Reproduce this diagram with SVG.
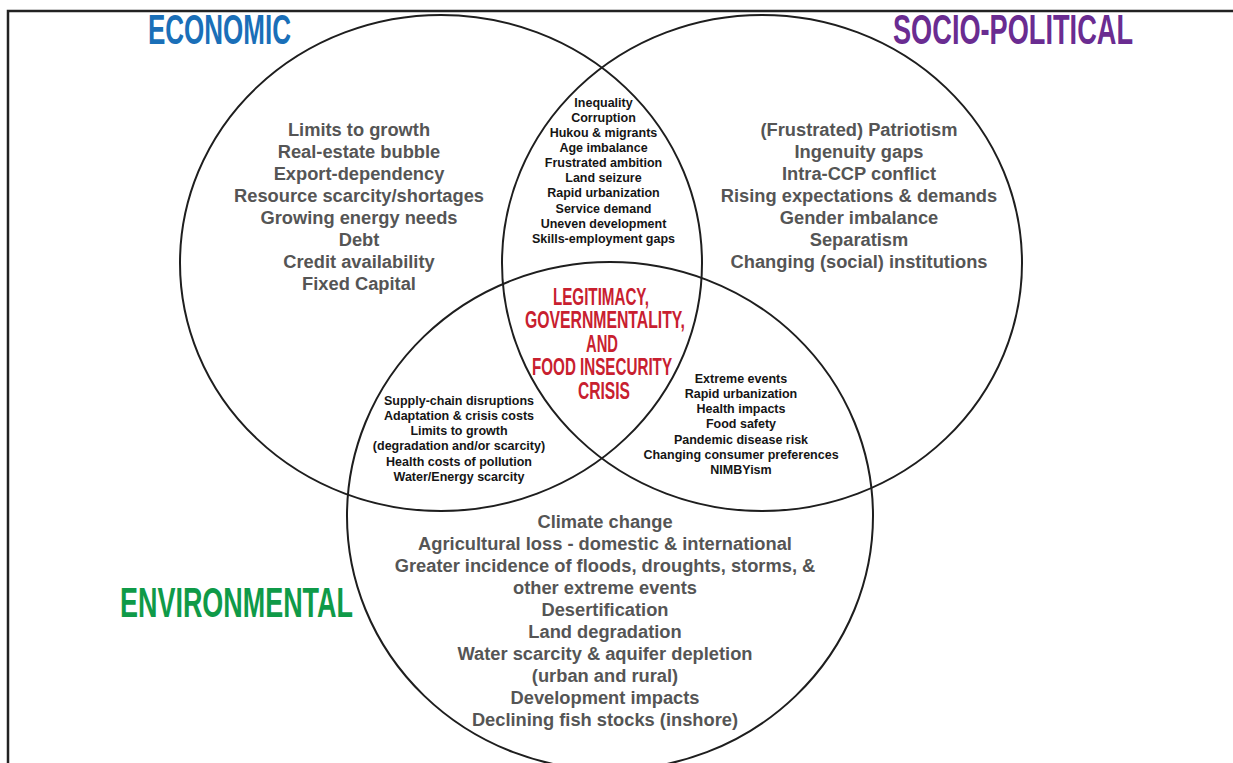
<svg xmlns="http://www.w3.org/2000/svg" width="1233" height="763" viewBox="0 0 1233 763">
<style>
.ring{fill:none;stroke:#1e1e1e;stroke-width:2}
.title{font-family:"Liberation Sans",Arial,sans-serif;font-weight:bold;font-size:42px;text-anchor:middle}
.big{font-family:"Liberation Sans",Arial,sans-serif;font-weight:bold;font-size:18.3px;fill:#555555;text-anchor:middle}
.small{font-family:"Liberation Sans",Arial,sans-serif;font-weight:bold;font-size:12.5px;fill:#151515;text-anchor:middle}
.core{font-family:"Liberation Sans",Arial,sans-serif;font-weight:bold;font-size:24px;fill:#c8202f;text-anchor:middle}
</style>
<rect width="1233" height="763" fill="#ffffff"/>
<path d="M8,763 V11 H1233" fill="none" stroke="#222" stroke-width="2.5"/>
<g id="economic">
<ellipse class="ring" cx="441" cy="263" rx="261" ry="248"/>
<text class="title" x="219.5" y="44" fill="#1a6fb8" textLength="143" lengthAdjust="spacingAndGlyphs">ECONOMIC</text>
<text class="big" x="359" y="136">Limits to growth</text>
<text class="big" x="359" y="158">Real-estate bubble</text>
<text class="big" x="359" y="180">Export-dependency</text>
<text class="big" x="359" y="202">Resource scarcity/shortages</text>
<text class="big" x="359" y="224">Growing energy needs</text>
<text class="big" x="359" y="246">Debt</text>
<text class="big" x="359" y="268">Credit availability</text>
<text class="big" x="359" y="290">Fixed Capital</text>
</g>
<g id="socio-political">
<ellipse class="ring" cx="762" cy="263" rx="260" ry="248"/>
<text class="title" x="1013" y="44" fill="#6a2c91" textLength="240" lengthAdjust="spacingAndGlyphs">SOCIO-POLITICAL</text>
<text class="big" x="859" y="136">(Frustrated) Patriotism</text>
<text class="big" x="859" y="158">Ingenuity gaps</text>
<text class="big" x="859" y="180">Intra-CCP conflict</text>
<text class="big" x="859" y="202">Rising expectations &amp; demands</text>
<text class="big" x="859" y="224">Gender imbalance</text>
<text class="big" x="859" y="246">Separatism</text>
<text class="big" x="859" y="268">Changing (social) institutions</text>
</g>
<g id="environmental">
<ellipse class="ring" cx="610" cy="516" rx="263" ry="254"/>
<text class="title" x="236.5" y="617" fill="#0f9a48" textLength="233" lengthAdjust="spacingAndGlyphs">ENVIRONMENTAL</text>
<text class="big" x="605" y="528">Climate change</text>
<text class="big" x="605" y="550">Agricultural loss - domestic &amp; international</text>
<text class="big" x="605" y="572">Greater incidence of floods, droughts, storms, &amp;</text>
<text class="big" x="605" y="594">other extreme events</text>
<text class="big" x="605" y="616">Desertification</text>
<text class="big" x="605" y="638">Land degradation</text>
<text class="big" x="605" y="660">Water scarcity &amp; aquifer depletion</text>
<text class="big" x="605" y="682">(urban and rural)</text>
<text class="big" x="605" y="704">Development impacts</text>
<text class="big" x="605" y="726">Declining fish stocks (inshore)</text>
</g>
<g id="economic-socio">
<text class="small" x="603.5" y="107">Inequality</text>
<text class="small" x="603.5" y="122">Corruption</text>
<text class="small" x="603.5" y="137">Hukou &amp; migrants</text>
<text class="small" x="603.5" y="152">Age imbalance</text>
<text class="small" x="603.5" y="167">Frustrated ambition</text>
<text class="small" x="603.5" y="182">Land seizure</text>
<text class="small" x="603.5" y="197">Rapid urbanization</text>
<text class="small" x="603.5" y="213">Service demand</text>
<text class="small" x="603.5" y="228">Uneven development</text>
<text class="small" x="603.5" y="243">Skills-employment gaps</text>
</g>
<g id="economic-environmental">
<text class="small" x="459" y="405">Supply-chain disruptions</text>
<text class="small" x="459" y="420">Adaptation &amp; crisis costs</text>
<text class="small" x="459" y="435">Limits to growth</text>
<text class="small" x="459" y="450">(degradation and/or scarcity)</text>
<text class="small" x="459" y="466">Health costs of pollution</text>
<text class="small" x="459" y="481">Water/Energy scarcity</text>
</g>
<g id="socio-environmental">
<text class="small" x="741" y="383">Extreme events</text>
<text class="small" x="741" y="398">Rapid urbanization</text>
<text class="small" x="741" y="413">Health impacts</text>
<text class="small" x="741" y="428">Food safety</text>
<text class="small" x="741" y="444">Pandemic disease risk</text>
<text class="small" x="741" y="459">Changing consumer preferences</text>
<text class="small" x="741" y="474">NIMBYism</text>
</g>
<g id="center">
<text class="core" x="601" y="305" textLength="96" lengthAdjust="spacingAndGlyphs">LEGITIMACY,</text>
<text class="core" x="605" y="328" textLength="160" lengthAdjust="spacingAndGlyphs">GOVERNMENTALITY,</text>
<text class="core" x="602" y="352" textLength="32" lengthAdjust="spacingAndGlyphs">AND</text>
<text class="core" x="602" y="375" textLength="140" lengthAdjust="spacingAndGlyphs">FOOD INSECURITY</text>
<text class="core" x="604" y="399" textLength="52" lengthAdjust="spacingAndGlyphs">CRISIS</text>
</g>
<g id="connectors"></g>
</svg>
